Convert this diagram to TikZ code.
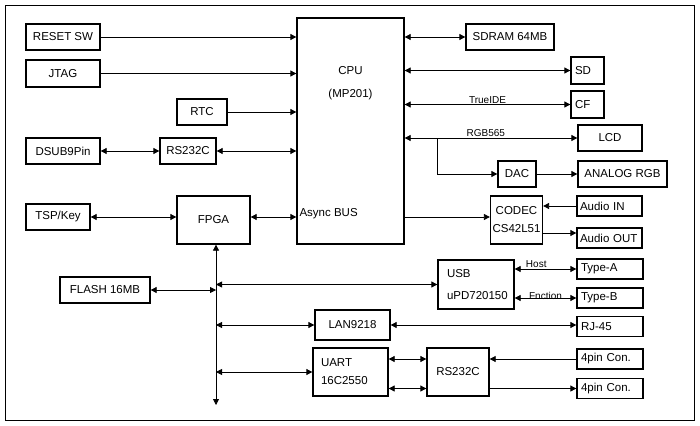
\documentclass[tikz,border=0pt]{standalone}
\usepackage{fontspec}
\setmainfont{Liberation Sans}
\usepackage{tikz}
\usetikzlibrary{arrows.meta,positioning,calc}
\tikzstyle{blk}=[draw,line width=1.3pt,inner xsep=4pt,inner ysep=0pt,font=\fontsize{11.5}{18}\selectfont]
\tikzstyle{lblk}=[blk,align=left]
\tikzstyle{sig}=[line width=0.8pt]
\tikzstyle{tag}=[font=\fontsize{10}{11}\selectfont,above,inner sep=1pt]

\begin{document}
\begin{tikzpicture}[x=1pt,y=-1pt,>={Triangle[length=6pt,width=6pt]}]
    \useasboundingbox (0,0) rectangle (700,425);
    \draw[line width=0.8pt] (5,5) rectangle (694,420);
    \node [blk,minimum width=74,minimum height=26] (rst) at (63,37) {RESET SW};
    \node [blk,minimum width=74,minimum height=27] (jtag) at (63,73.5) {JTAG};
    \node [blk,minimum width=50,minimum height=26] (rtc) at (202,112) {RTC};
    \node [blk,minimum width=74,minimum height=26] (dsub) at (63,151) {DSUB9Pin};
    \node [blk,minimum width=56,minimum height=26] (rsa) at (188,151) {RS232C};
    \node [blk,minimum width=64,minimum height=26] (tsp) at (58,217) {TSP/Key};
    \node [blk,minimum width=73,minimum height=48] (fpga) at (213.5,220) {FPGA};
    \node [blk,minimum width=90,minimum height=26] (flash) at (105,290) {FLASH 16MB};
    \node [blk,minimum width=107,minimum height=226] (cpu) at (350.5,131) {};
    \node [align=center,font=\fontsize{11.5}{23}\selectfont] (cpuname) at ($(cpu.north)+(0,65.5)$) {CPU\\(MP201)};
    \node [anchor=west,inner sep=1pt,xshift=2pt,yshift=3pt,font=\fontsize{11.5}{13}\selectfont] (abus) at (cpu.west |- tsp.east) {Async BUS};
    \node [blk,minimum width=88,minimum height=26] (sdram) at (510,37) {SDRAM 64MB};
    \node [lblk,text width=25pt,minimum height=27] (sd) at (587.5,70.5) {SD};
    \node [lblk,text width=25pt,minimum height=27] (cf) at (587.5,104.5) {CF};
    \node [blk,minimum width=64,minimum height=26] (lcd) at (610,138) {LCD};
    \node [blk,minimum width=38,minimum height=26] (dac) at (517,174) {DAC};
    \node [blk,minimum width=89,minimum height=26] (argb) at (622.5,174) {ANALOG RGB};
    \node [blk,align=center,inner xsep=2pt,minimum width=51,minimum height=48] (codec) at (516.5,220) {CODEC\\CS42L51};
    \node [lblk,inner xsep=3pt,text width=59pt,minimum height=20] (ain) at (609.5,206) {Audio IN};
    \node [lblk,inner xsep=3pt,text width=59pt,minimum height=20] (aout) at (609.5,238) {Audio OUT};
    \node [lblk,inner xsep=9pt,text width=58pt,minimum height=49] (usb) at (476,284.5) {USB\\[4pt]uPD720150};
    \node [lblk,text width=58pt,minimum height=20] (ta) at (610,269) {Type-A};
    \node [lblk,text width=58pt,minimum height=20] (tb) at (610,298) {Type-B};
    \node [blk,minimum width=75,minimum height=30] (lan) at (352.5,325) {LAN9218};
    \node [lblk,text width=58pt,minimum height=20] (rj) at (610,326.5) {RJ-45};
    \node [lblk,inner xsep=8pt,text width=59pt,minimum height=48] (uart) at (350.5,372) {UART\\16C2550};
    \node [blk,minimum width=62,minimum height=48] (rsb) at (458,372) {RS232C};
    \node [lblk,text width=58pt,minimum height=20] (pin1) at (610,359) {4pin Con.};
    \node [lblk,text width=58pt,minimum height=20] (pin2) at (610,388.5) {4pin Con.};
    \coordinate (busend) at (216,405);
    \draw[sig,->] (rst.east) -- (rst.east -| cpu.west);
    \draw[sig,->] (jtag.east) -- (jtag.east -| cpu.west);
    \draw[sig,->] (rtc.east) -- (rtc.east -| cpu.west);
    \draw[sig,<->] (dsub.east) -- (rsa.west);
    \draw[sig,<->] (rsa.east) -- (rsa.east -| cpu.west);
    \draw[sig,<->] (tsp.east) -- (tsp.east -| fpga.west);
    \draw[sig,<->] (fpga.east |- tsp.east) -- (cpu.west |- tsp.east);
    \draw[sig,->] (cpu.east |- tsp.east) -- (codec.west |- tsp.east);
    \draw[sig,<->] (cpu.east |- sdram.west) -- (sdram.west);
    \draw[sig,<->] (cpu.east |- sd.west) -- (sd.west);
    \draw[sig,<->] (cpu.east |- cf.west) -- node[tag] {TrueIDE} (cf.west);
    \draw[sig,<->] (cpu.east |- lcd.west) -- node[tag,pos=0.47] {RGB565} (lcd.west);
    \coordinate (split) at ($(cpu.east |- lcd.west)+(33,0)$);
    \draw[sig,->] (split) |- (dac.west);
    \draw[sig,->] (dac.east) -- (argb.west);
    \draw[sig,->] (ain.west) -- (ain.west -| codec.east);
    \draw[sig,->] ([yshift=-13pt]codec.east) -- ([yshift=-13pt]codec.east -| aout.west);
    \draw[sig,<->] (fpga.south -| busend) -- (busend);
    \draw[sig,<->] (flash.east) -- (flash.east -| busend);
    \draw[sig,<->] (usb.west -| busend) -- (usb.west);
    \draw[sig,<->] (lan.west -| busend) -- (lan.west);
    \draw[sig,<->] (uart.west -| busend) -- (uart.west);
    \draw[sig,<->] (usb.east |- ta.west) -- node[tag,pos=0.35] {Host} (ta.west);
    \draw[sig,<->] (usb.east |- tb.west) -- node[tag,inner sep=0pt,yshift=-2pt] {Fnction} (tb.west);
    \draw[sig,<->] (lan.east) -- (lan.east -| rj.west);
    \draw[sig,<->] (uart.east |- pin1.west) -- (rsb.west |- pin1.west);
    \draw[sig,<->] (uart.east |- pin2.west) -- (rsb.west |- pin2.west);
    \draw[sig,->] (pin1.west) -- (pin1.west -| rsb.east);
    \draw[sig,->] (pin2.west -| rsb.east) -- (pin2.west);
\end{tikzpicture}
\end{document}
